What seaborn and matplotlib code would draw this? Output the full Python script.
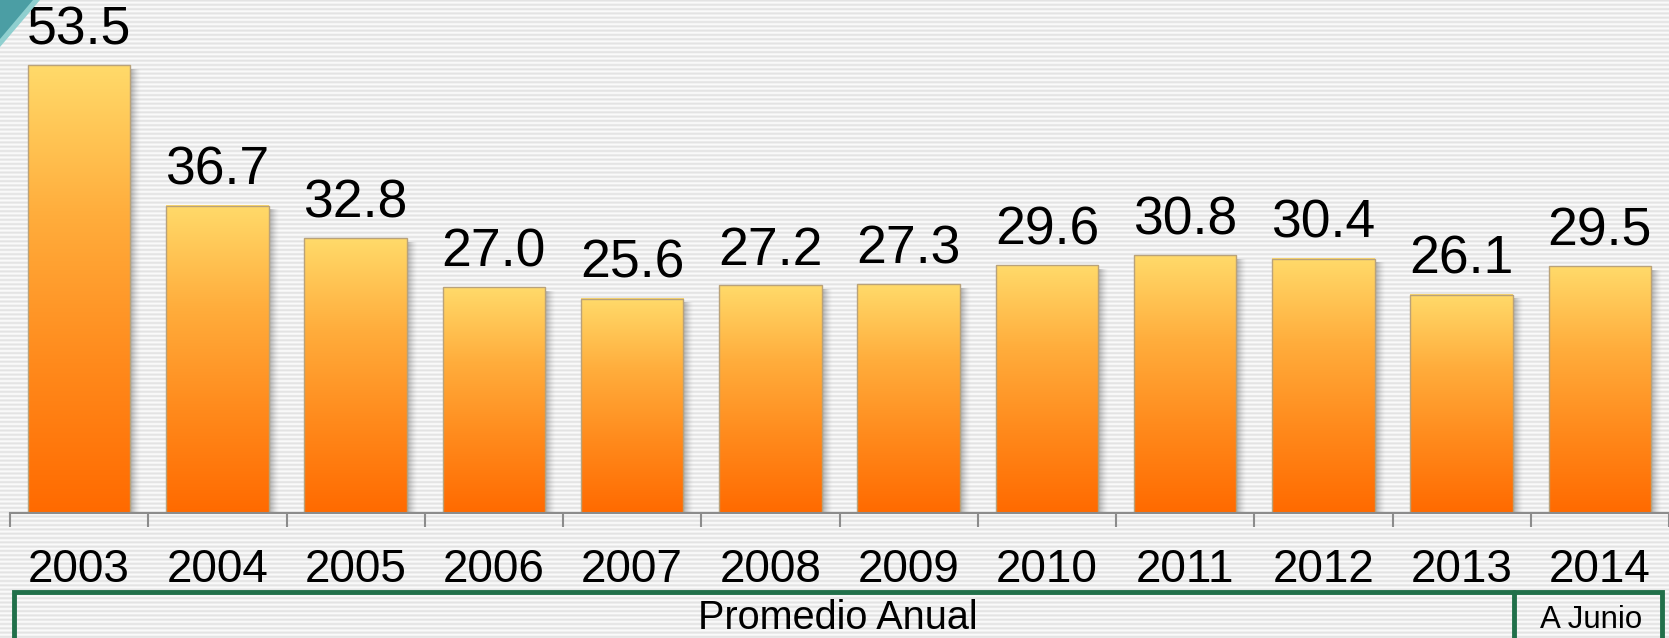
import numpy as np
import matplotlib
matplotlib.use("Agg")
import matplotlib.pyplot as plt
import seaborn as sns
from matplotlib.patches import Rectangle, Polygon
from matplotlib.colors import LinearSegmentedColormap, to_rgb

# Data
years = ["2003", "2004", "2005", "2006", "2007", "2008",
         "2009", "2010", "2011", "2012", "2013", "2014"]
values = [53.5, 36.7, 32.8, 27.0, 25.6, 27.2, 27.3, 29.6, 30.8, 30.4, 26.1, 29.5]
group_labels = ["Promedio Anual", "A Junio"]

W, H, DPI = 1669, 638, 100

sns.set_theme(style="white")
plt.rcParams["font.family"] = ["Liberation Sans", "DejaVu Sans"]

fig = plt.figure(figsize=(W / DPI, H / DPI), dpi=DPI)


def fx(px):
    return px / W


def fy(py):
    return 1 - py / H


# Striped background
bg = fig.add_axes([0, 0, 1, 1], zorder=0)
rows = np.arange(H)
phase = 0.5 + 0.5 * np.cos(2 * np.pi * rows / 4.3)
light = np.array(to_rgb("#fbfbfb"))
dark = np.array(to_rgb("#e3e3e3"))
img = light[None, :] * (1 - phase[:, None]) + dark[None, :] * phase[:, None]
bg.imshow(img[:, None, :], aspect="auto", extent=[0, 1, 0, 1], interpolation="nearest")
bg.set_axis_off()

# Folded corner
fig.add_artist(Polygon([(fx(0), fy(0)), (fx(40), fy(0)), (fx(0), fy(47))],
                       closed=True, transform=fig.transFigure,
                       facecolor="#8fcfcf", edgecolor="none", zorder=5))
fig.add_artist(Polygon([(fx(0), fy(0)), (fx(33), fy(0)), (fx(0), fy(39))],
                       closed=True, transform=fig.transFigure,
                       facecolor="#4b9ea4", edgecolor="none", zorder=6))

# Main axes
px_per_unit = 8.37
ax = fig.add_axes([fx(10), fy(513), fx(1669 - 10), 513 / H], zorder=2)
ax.set_facecolor("none")

sns.barplot(x=years, y=values, ax=ax, width=0.74, color="#ff8c1a",
            saturation=1, edgecolor="#b9a27a", linewidth=1)

cmap = LinearSegmentedColormap.from_list(
    "bar_grad", ["#ffda6a", "#ffad3c", "#ff8a1c", "#ff6a00"])
grad = np.linspace(0, 1, 256)[:, None]
sx = 1 / 138.25  # data units per pixel (x)
sy = 1 / px_per_unit

for p in ax.patches:
    x0 = p.get_x()
    w = p.get_width()
    h = p.get_height()
    # soft shadow to the right
    shade = np.zeros((1, 32, 4))
    shade[..., :3] = 0.35
    shade[0, :, 3] = np.linspace(0.6, 0.0, 32) ** 1.5
    ax.imshow(shade, extent=[x0 + w, x0 + w + 11 * sx, 0, h - 4 * sy],
              aspect="auto", zorder=1, interpolation="bilinear")
    # vertical gradient fill
    ax.imshow(grad, cmap=cmap, extent=[x0, x0 + w, 0, h], aspect="auto",
              zorder=2, interpolation="bilinear")
    p.set_facecolor("none")
    p.set_zorder(3)

ax.set_aspect("auto")
ax.set_xlim(-0.5, len(years) - 0.5)
ax.set_ylim(0, 513 / px_per_unit)

# Value labels
for i, v in enumerate(values):
    ax.annotate(f"{v:.1f}", (i, v), xytext=(0, 15), textcoords="offset points",
                ha="center", va="baseline", fontsize=38.5, color="black", zorder=4)

# Category labels
for i, y in enumerate(years):
    ax.text(i, (513 - 582) / 513, y, transform=ax.get_xaxis_transform(),
            ha="center", va="baseline", fontsize=33, color="black", clip_on=False)

# Axis styling
for s in ["left", "right", "top"]:
    ax.spines[s].set_visible(False)
ax.spines["bottom"].set_color("#8c8c8c")
ax.spines["bottom"].set_linewidth(1.5)
ax.spines["bottom"].set_zorder(5)
ax.set_yticks([])
ax.set_xticks(np.arange(-0.5, len(years), 1))
ax.set_xticklabels([])
ax.tick_params(axis="x", direction="out", length=10, width=1.5, color="#8c8c8c",
               bottom=True)
ax.set_xlabel("")
ax.set_ylabel("")

# Group boxes
green = "#21704a"
fig.add_artist(Rectangle((fx(14), fy(660)), fx(1662 - 14), (660 - 592) / H,
                         transform=fig.transFigure, fill=False,
                         edgecolor=green, linewidth=3.5, zorder=6, clip_on=False))
fig.add_artist(plt.Line2D([fx(1514), fx(1514)], [fy(592), fy(660)],
                          transform=fig.transFigure, color=green, linewidth=3.5,
                          zorder=6))
fig.text(fx(838), fy(629), group_labels[0], ha="center", va="baseline",
         fontsize=28.5, color="black", zorder=7)
fig.text(fx(1591), fy(628), group_labels[1], ha="center", va="baseline",
         fontsize=22.5, color="black", zorder=7)

fig.savefig("out.png", dpi=DPI)
